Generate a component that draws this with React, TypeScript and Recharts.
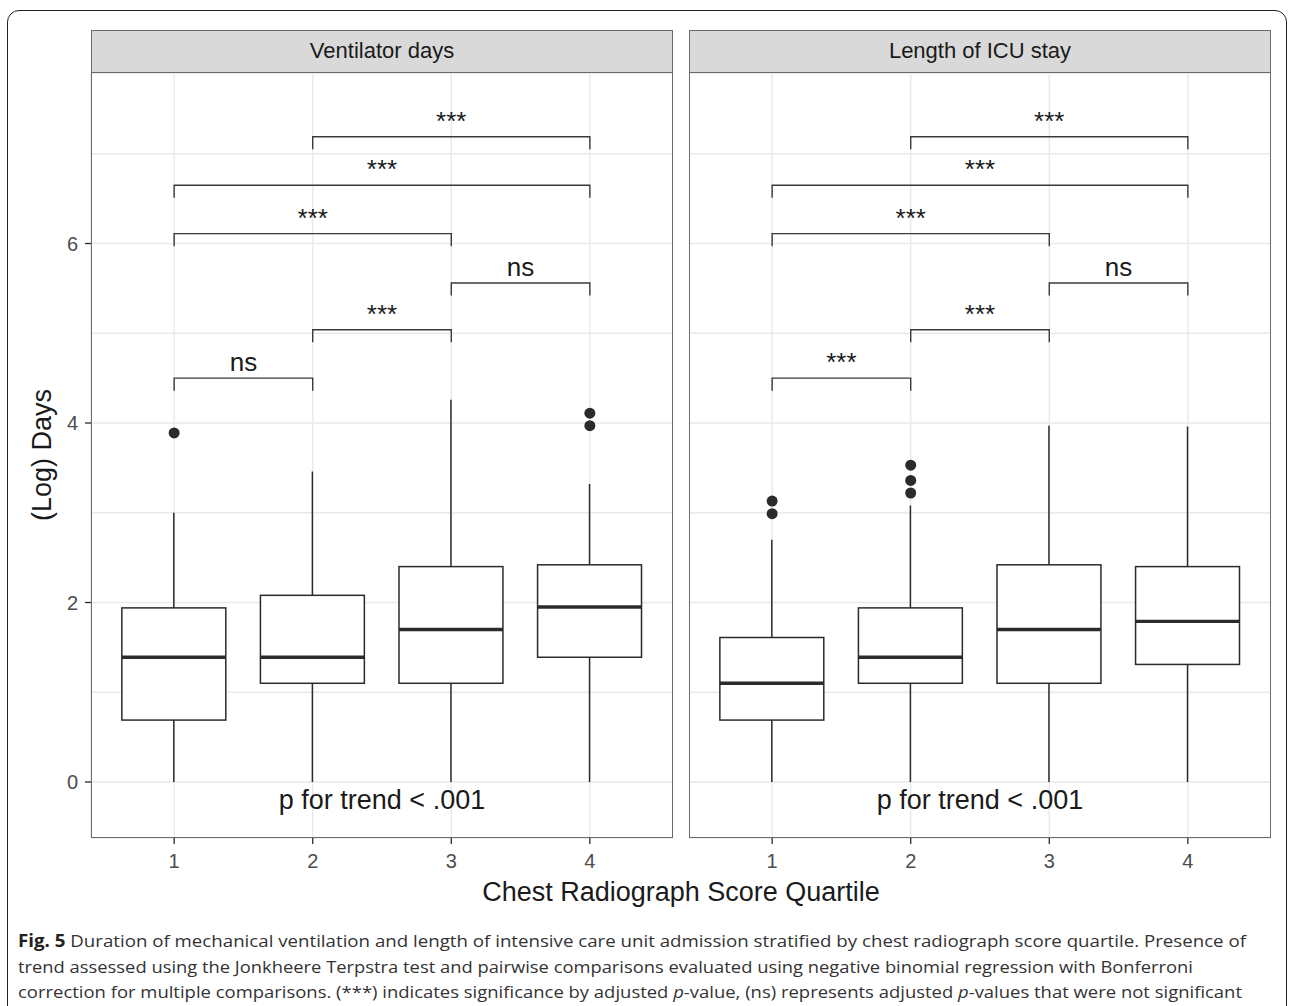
import { Bar, CartesianGrid, ComposedChart, Line, Scatter, XAxis, YAxis } from "recharts";

const quartiles = ["1", "2", "3", "4"];
const xTicks = [1, 2, 3, 4];
const yTicks = [0, 1, 2, 3, 4, 5, 6, 7];

// Ventilator days, log scale
const ventLow = [0, 0, 0, 0];
const ventQ1 = [0.69, 1.1, 1.1, 1.39];
const ventMedian = [1.39, 1.39, 1.7, 1.95];
const ventQ3 = [1.94, 2.08, 2.4, 2.42];
const ventHigh = [3.0, 3.46, 4.26, 3.32];
const ventOutliers = [[3.89], [], [], [3.97, 4.11]];

// Length of ICU stay, log scale
const icuLow = [0, 0, 0, 0];
const icuQ1 = [0.69, 1.1, 1.1, 1.31];
const icuMedian = [1.1, 1.39, 1.7, 1.79];
const icuQ3 = [1.61, 1.94, 2.42, 2.4];
const icuHigh = [2.7, 3.08, 3.97, 3.96];
const icuOutliers = [[2.99, 3.13], [3.22, 3.36, 3.53], [], []];

// pairwise comparison brackets
const bracketPairs = [[1, 2], [2, 3], [3, 4], [1, 3], [1, 4], [2, 4]];
const bracketHeights = [4.5, 5.04, 5.56, 6.11, 6.65, 7.19];
const ventSignif = ["ns", "***", "ns", "***", "***", "***"];
const icuSignif = ["***", "***", "ns", "***", "***", "***"];
const tipLength = 0.14;
const trendText = "p for trend < .001";
const trendY = -0.3;

const ink = "#2b2b2b";
const chartFont = '"Liberation Sans", Arial, Helvetica, sans-serif';
const plotW = 582;
const plotH = 765;
const catPad = (plotW - (4 * plotW) / 4.2) / 2;
const boxWidth = (0.75 * plotW) / 4.2;

function span(p: any) {
  const top = Math.min(p.y, p.y + p.height);
  return { top, h: Math.abs(p.height) };
}

const WhiskerShape = (p: any) => {
  const { top, h } = span(p);
  const cx = p.x + p.width / 2;
  return <line x1={cx} x2={cx} y1={top} y2={top + h} stroke={ink} strokeWidth={1.5} />;
};

const BoxShape = (p: any) => {
  const { top, h } = span(p);
  return <rect x={p.x} y={top} width={p.width} height={h} fill="#fff" stroke={ink} strokeWidth={1.5} />;
};

const MedianShape = (p: any) => {
  const { top } = span(p);
  return <line x1={p.x} x2={p.x + p.width} y1={top} y2={top} stroke={ink} strokeWidth={3.4} />;
};

const YTick = (p: any) => {
  const v = p.payload.value;
  if (v % 2 !== 0) return <g />;
  return (
    <g>
      <line x1={p.x + 7} x2={p.x + 13} y1={p.y} y2={p.y} stroke={ink} strokeWidth={1.3} />
      <text x={p.x} y={p.y} dy="0.36em" textAnchor="end" fontSize={20} fill="#4d4d4d" fontFamily={chartFont}>
        {v}
      </text>
    </g>
  );
};

type PanelProps = {
  showY: boolean;
  low: number[];
  q1: number[];
  median: number[];
  q3: number[];
  high: number[];
  outliers: number[][];
  signif: string[];
};

function Panel({ showY, low, q1, median, q3, high, outliers, signif }: PanelProps) {
  const rows = quartiles.map((q, i) => ({
    q,
    x: i + 1,
    low: low[i],
    q1: q1[i],
    median: median[i],
    q3: q3[i],
    high: high[i],
  }));
  const outlierPoints = outliers.flatMap((vals, i) => vals.map((v) => ({ x: i + 1, y: v })));
  const labels = bracketPairs.map(([a, b], i) => ({ x: (a + b) / 2, y: bracketHeights[i], text: signif[i] }));
  const yW = showY ? 71 : 0;

  return (
    <ComposedChart width={plotW + yW} height={plotH + 40} data={rows} margin={{ top: 0, right: 0, bottom: 0, left: 0 }}>
      <CartesianGrid xAxisId="num" stroke="#e9e9e9" strokeWidth={1.4} />
      <XAxis
        xAxisId="num"
        type="number"
        dataKey="x"
        domain={[0.4, 4.6]}
        ticks={xTicks}
        interval={0}
        allowDataOverflow
        axisLine={false}
        tickLine={{ stroke: ink, strokeWidth: 1.3 }}
        tickSize={6}
        tickMargin={10}
        height={40}
        tick={{ fill: "#4d4d4d", fontSize: 20, fontFamily: chartFont }}
      />
      {["whisker", "box", "median"].map((id) => (
        <XAxis
          key={id}
          xAxisId={id}
          orientation="top"
          type="category"
          dataKey="q"
          hide
          height={0}
          padding={{ left: catPad, right: catPad }}
        />
      ))}
      <YAxis
        type="number"
        dataKey="y"
        domain={[-0.624, 7.9]}
        ticks={yTicks}
        interval={0}
        allowDataOverflow
        hide={!showY}
        width={yW}
        axisLine={false}
        tickLine={false}
        tickSize={6}
        tickMargin={7}
        tick={(p: any) => <YTick {...p} />}
      />
      <Bar xAxisId="whisker" dataKey={(d: any) => [d.low, d.high]} barSize={boxWidth} shape={WhiskerShape} isAnimationActive={false} />
      <Bar xAxisId="box" dataKey={(d: any) => [d.q1, d.q3]} barSize={boxWidth} shape={BoxShape} isAnimationActive={false} />
      <Bar xAxisId="median" dataKey={(d: any) => [d.q1, d.median]} barSize={boxWidth} shape={MedianShape} isAnimationActive={false} />
      <Scatter
        xAxisId="num"
        data={outlierPoints}
        dataKey="y"
        isAnimationActive={false}
        shape={(p: any) => <circle cx={p.cx} cy={p.cy} r={5.5} fill={ink} />}
      />
      {bracketPairs.map(([a, b], i) => (
        <Line
          key={i}
          xAxisId="num"
          type="linear"
          data={[
            { x: a, y: bracketHeights[i] - tipLength },
            { x: a, y: bracketHeights[i] },
            { x: b, y: bracketHeights[i] },
            { x: b, y: bracketHeights[i] - tipLength },
          ]}
          dataKey="y"
          stroke="#3a3a3a"
          strokeWidth={1.4}
          dot={false}
          activeDot={false}
          isAnimationActive={false}
        />
      ))}
      <Scatter
        xAxisId="num"
        data={labels}
        dataKey="y"
        isAnimationActive={false}
        shape={(p: any) => (
          <text x={p.cx} y={p.cy - 7} textAnchor="middle" fontSize={26} fill="#1a1a1a" fontFamily={chartFont}>
            {p.payload.text}
          </text>
        )}
      />
      <Scatter
        xAxisId="num"
        data={[{ x: 2.5, y: trendY }]}
        dataKey="y"
        isAnimationActive={false}
        shape={(p: any) => (
          <text x={p.cx} y={p.cy} textAnchor="middle" fontSize={27} fill="#1a1a1a" fontFamily={chartFont}>
            {trendText}
          </text>
        )}
      />
    </ComposedChart>
  );
}

const stripStyle = (left: number) => ({
  position: "absolute" as const,
  left,
  top: 30,
  width: plotW,
  height: 43,
  boxSizing: "border-box" as const,
  background: "#d9d9d9",
  border: "1.5px solid #6a6a6a",
  color: "#1a1a1a",
  fontSize: 22,
  lineHeight: "40px",
  textAlign: "center" as const,
  fontFamily: chartFont,
});

const borderStyle = (left: number) => ({
  position: "absolute" as const,
  left,
  top: 72,
  width: plotW,
  height: plotH + 1,
  boxSizing: "border-box" as const,
  border: "1.5px solid #6a6a6a",
  pointerEvents: "none" as const,
});

export default function App() {
  return (
    <div
      style={{
        position: "absolute",
        left: 0,
        top: 0,
        width: 1290,
        height: 1006,
        overflow: "hidden",
        background: "#fff",
        fontFamily: chartFont,
      }}
    >
      <div
        style={{
          position: "absolute",
          left: 7,
          top: 10,
          width: 1280,
          height: 1020,
          boxSizing: "border-box",
          border: "1.5px solid #222",
          borderRadius: 12,
        }}
      />
      <div style={stripStyle(91)}>Ventilator days</div>
      <div style={stripStyle(689)}>Length of ICU stay</div>
      <div style={{ position: "absolute", left: 20, top: 73 }}>
        <Panel
          showY
          low={ventLow}
          q1={ventQ1}
          median={ventMedian}
          q3={ventQ3}
          high={ventHigh}
          outliers={ventOutliers}
          signif={ventSignif}
        />
      </div>
      <div style={{ position: "absolute", left: 689, top: 73 }}>
        <Panel
          showY={false}
          low={icuLow}
          q1={icuQ1}
          median={icuMedian}
          q3={icuQ3}
          high={icuHigh}
          outliers={icuOutliers}
          signif={icuSignif}
        />
      </div>
      <div style={borderStyle(91)} />
      <div style={borderStyle(689)} />
      <svg width={1290} height={1006} style={{ position: "absolute", left: 0, top: 0, pointerEvents: "none" }}>
        <text x={51} y={455} transform="rotate(-90 51 455)" textAnchor="middle" fontSize={27} fill="#1a1a1a" fontFamily={chartFont}>
          (Log) Days
        </text>
        <text x={681} y={901} textAnchor="middle" fontSize={27} fill="#1a1a1a" fontFamily={chartFont}>
          Chest Radiograph Score Quartile
        </text>
        <g fontFamily='"Open Sans", sans-serif' fontSize={17} fill="#333">
          <text x={18} y={947} textLength={1228} lengthAdjust="spacingAndGlyphs">
            <tspan fontWeight={700} fill="#222">Fig. 5</tspan> Duration of mechanical ventilation and length of intensive care unit admission stratified by chest radiograph score quartile. Presence of
          </text>
          <text x={18} y={973} textLength={1175} lengthAdjust="spacingAndGlyphs">
            trend assessed using the Jonkheere Terpstra test and pairwise comparisons evaluated using negative binomial regression with Bonferroni
          </text>
          <text x={18} y={998} textLength={1224} lengthAdjust="spacingAndGlyphs">
            correction for multiple comparisons. (***) indicates significance by adjusted <tspan fontStyle="italic">p</tspan>-value, (ns) represents adjusted <tspan fontStyle="italic">p</tspan>-values that were not significant
          </text>
        </g>
      </svg>
    </div>
  );
}
